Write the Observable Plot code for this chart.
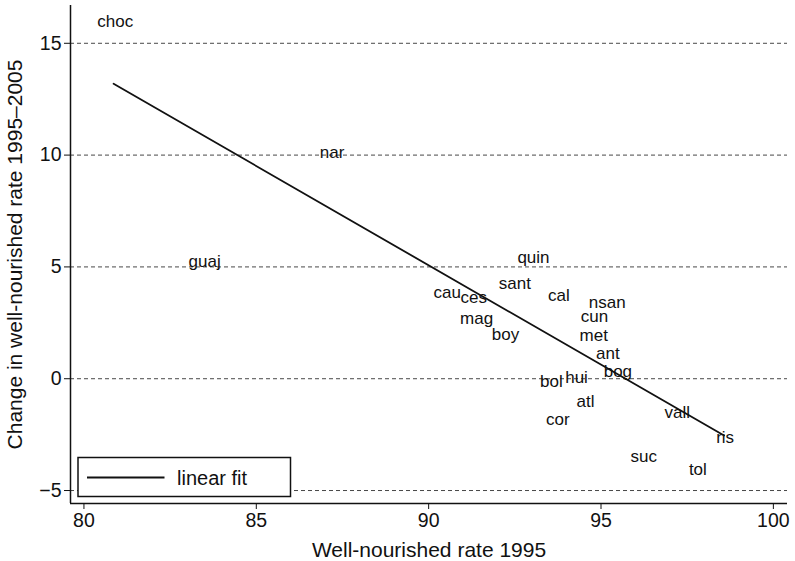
<!DOCTYPE html>
<html>
<head>
<meta charset="utf-8">
<script src="https://cdn.jsdelivr.net/npm/d3@7"></script>
<script src="https://cdn.jsdelivr.net/npm/@observablehq/plot@0.6"></script>
<style>
  html, body { margin: 0; padding: 0; background: #fff; }
  #chart { position: relative; width: 795px; height: 561px; }
</style>
</head>
<body>
<div id="chart"></div>
<script>
// Department abbreviations (labels)
const depts = ["choc","nar","guaj","quin","sant","cau","ces","cal","nsan","mag","cun","boy","met","ant","bog","bol","hui","atl","cor","vall","ris","suc","tol"];
// Well-nourished rate 1995
const rate1995 = [80.91,87.20,83.50,93.04,92.50,90.54,91.31,93.78,95.18,91.39,94.81,92.23,94.79,95.20,95.49,93.56,94.29,94.55,93.75,97.21,98.60,96.24,97.81];
// Change in well-nourished rate 1995–2005
const change = [15.98,10.13,5.24,5.43,4.24,3.87,3.65,3.72,3.42,2.68,2.78,1.98,1.93,1.11,0.32,-0.12,0.07,-1.00,-1.84,-1.52,-2.61,-3.48,-4.07];
// Linear fit endpoints
const fitX = [80.86, 98.57];
const fitY = [13.19, -2.54];
// Tick values
const xTicks = [80, 85, 90, 95, 100];
const yTicks = [-5, 0, 5, 10, 15];
const xDomain = [79.61, 100.41];
const yDomain = [-5.58, 16.69];

const points = depts.map((d, i) => ({name: d, x: rate1995[i], y: change[i]}));
const fit = fitX.map((x, i) => ({x, y: fitY[i]}));

const fmt = d => d < 0 ? "\u2212" + Math.abs(d) : String(d);

const chart = Plot.plot({
  width: 795,
  height: 561,
  marginLeft: 70,
  marginRight: 8,
  marginTop: 5,
  marginBottom: 58,
  style: {fontFamily: "'Liberation Sans', Arial, sans-serif", color: "#111", background: "#fff"},
  x: {domain: xDomain},
  y: {domain: yDomain},
  marks: [
    Plot.ruleY(yTicks, {y: d => d, stroke: "#333", strokeWidth: 0.9, strokeDasharray: "4,3"}),
    Plot.ruleX([xDomain[0]], {stroke: "#111", strokeWidth: 1.5}),
    Plot.ruleY([yDomain[0]], {stroke: "#111", strokeWidth: 1.5}),
    Plot.axisX({ticks: xTicks, tickSize: 6, tickPadding: 4, fontSize: 19.5, stroke: "#111",
      label: null, tickFormat: fmt}),
    Plot.axisY({ticks: yTicks, tickSize: 6, tickPadding: 3, fontSize: 19.5, stroke: "#111",
      label: null, tickFormat: fmt}),
    Plot.axisX({ticks: [], tickSize: 0, fontSize: 21,
      label: "Well-nourished rate 1995", labelArrow: "none", labelAnchor: "center", labelOffset: 53}),
    Plot.axisY({ticks: [], tickSize: 0, fontSize: 21,
      label: "Change in well-nourished rate 1995\u20132005", labelArrow: "none", labelAnchor: "center", labelOffset: 63}),
    Plot.line(fit, {x: "x", y: "y", stroke: "#111", strokeWidth: 1.8}),
    Plot.text(points, {x: "x", y: "y", text: "name", fontSize: 17, fill: "#111", textAnchor: "middle", lineAnchor: "middle"})
  ]
});

document.getElementById("chart").appendChild(chart);

// Legend box (bottom-left inside plot)
const svg = d3.select(chart);
const lg = svg.append("g").attr("class", "legend");
lg.append("rect").attr("x", 78).attr("y", 457.5).attr("width", 212.5).attr("height", 39)
  .attr("fill", "#fff").attr("stroke", "#111").attr("stroke-width", 1.5);
lg.append("line").attr("x1", 87).attr("x2", 164.5).attr("y1", 477.5).attr("y2", 477.5)
  .attr("stroke", "#111").attr("stroke-width", 1.8);
lg.append("text").attr("x", 177).attr("y", 484.5).attr("font-size", 20)
  .attr("text-anchor", "start")
  .attr("font-family", "'Liberation Sans', Arial, sans-serif").attr("fill", "#111").text("linear fit");
</script>
</body>
</html>
